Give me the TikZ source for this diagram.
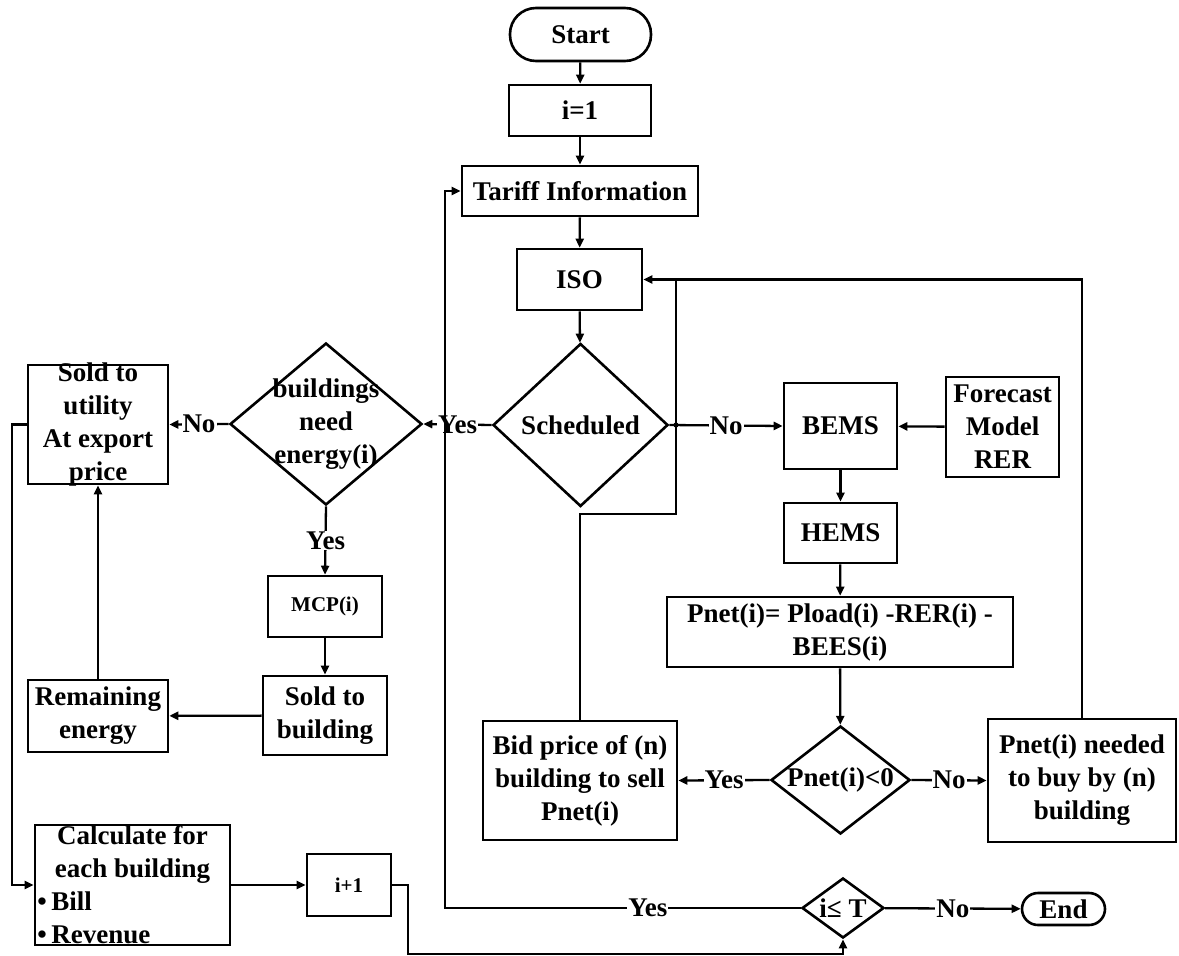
\documentclass[tikz,border=0pt]{standalone}
\usepackage{fontspec}
\setmainfont{Liberation Serif}
\usetikzlibrary{shapes.geometric,arrows.meta}

\begin{document}
\begin{tikzpicture}[x=1pt,y=-1pt,line join=miter,
  font=\fontsize{27}{33}\selectfont\bfseries,
  box/.style={draw,line width=2.6pt,align=center,inner sep=2pt},
  term/.style={box,rounded corners=#1},
  decision/.style={draw,diamond,line width=2.6pt,inner sep=0pt},
  small/.style={font=\fontsize{21}{25}\selectfont\bfseries},
  flow/.style={line width=2.3pt,-{Triangle[length=9pt,width=8pt]}},
  link/.style={line width=2.3pt},
  tag/.style={fill=white,inner sep=1pt}]
  \useasboundingbox (0,0) rectangle (1179,956);

  % market column
  \node[term=26pt,minimum width=141pt,minimum height=53pt] (start) at (580.5,34.5) {Start};
  \node[box,minimum width=142pt,minimum height=51pt] (init) at (580,110.5) {i=1};
  \node[box,minimum width=236pt,minimum height=50pt] (tariff) at (580,191) {Tariff Information};
  \node[box,minimum width=125pt,minimum height=61pt] (iso) at (579.5,279.5) {ISO};
  \node[decision,minimum width=175pt,minimum height=163pt,label={center:Scheduled}] (sched) at (580.5,425) {};

  % scheduled branch
  \node[decision,minimum width=192pt,minimum height=162pt,
    label={[align=center]center:{buildings\\need\\energy(i)}}] (need) at (326,424) {};
  \node[box,minimum width=140pt,minimum height=119pt,
    label={[align=center]center:{Sold to\\utility\\At export\\price}}] (util) at (98,424.5) {};
  \node[box,small,minimum width=114pt,minimum height=61pt] (mcp) at (325,606.5) {MCP(i)};
  \node[box,minimum width=124pt,minimum height=79pt] (soldb) at (325,715.5) {Sold to\\building};
  \node[box,minimum width=140pt,minimum height=72pt] (remain) at (98,716) {Remaining\\energy};
  \node[box,minimum width=195pt,minimum height=120pt,
    label={[align=left,inner sep=0pt]center:{\makebox[190pt]{Calculate for}\\\makebox[190pt]{each building}\\\textbullet\,Bill\\\textbullet\,Revenue}}] (calc) at (132.5,885) {};
  \node[box,small,minimum width=84pt,minimum height=62pt] (inc) at (349,885) {i+1};

  % building side
  \node[box,minimum width=113pt,minimum height=86pt] (bems) at (840.5,426) {BEMS};
  \node[box,minimum width=113pt,minimum height=100pt] (fcst) at (1002.5,427) {Forecast\\Model\\RER};
  \node[box,minimum width=113pt,minimum height=60pt] (hems) at (840.5,533) {HEMS};
  \node[box,minimum width=346pt,minimum height=70pt] (pnet) at (840,632) {Pnet(i)= Pload(i) -RER(i) -\\BEES(i)};
  \node[decision,minimum width=139pt,minimum height=108pt,label={center:Pnet(i)<0}] (sign) at (840.5,780) {};
  \node[box,minimum width=194pt,minimum height=119pt] (bid) at (580,780.5) {Bid price of (n)\\building to sell\\Pnet(i)};
  \node[box,minimum width=188pt,minimum height=123pt] (buy) at (1082,780.5) {Pnet(i) needed\\to buy by (n)\\building};

  % loop test
  \node[decision,minimum width=82pt,minimum height=60pt,label={center:i≤ T}] (check) at (843,908) {};
  \node[term=16pt,minimum width=83pt,minimum height=32pt] (stop) at (1063.5,909) {End};

  \draw[flow] (start) -- (init);
  \draw[flow] (init) -- (tariff);
  \draw[flow] (tariff) -- (iso);
  \draw[flow] (iso) -- (sched);
  \draw[flow] (sched.west) -- node[tag]{Yes} (need.east);
  \draw[flow] (need.west) -- node[tag]{No} (util.east);
  \draw[flow] (need.south) -- node[tag]{Yes} (mcp.north);
  \draw[flow] (mcp) -- (soldb);
  \draw[flow] (soldb) -- (remain);
  \draw[flow] (remain) -- (util);
  \draw[flow] (util.west) -- ++(-15,0) |- (calc.west);
  \draw[flow] (calc) -- (inc);
  \draw[flow] (inc.east) -- ++(16,0) |- ([yshift=-15pt]check.south) -- (check.south);
  \draw[flow] (check.west) -- node[tag,pos=.43]{Yes} (445,908) |- (tariff.west);
  \draw[flow] (check) -- node[tag]{No} (stop);

  \draw[flow] (sched.east) -- node[tag]{No} (bems.west);
  \draw[flow] (fcst) -- (bems);
  \draw[flow] (bems) -- (hems);
  \draw[flow] (hems) -- (pnet);
  \draw[flow] (pnet) -- (sign);
  \draw[flow] (sign.west) -- node[tag]{Yes} (bid.east);
  \draw[flow] (sign.east) -- node[tag]{No} (buy.west);
  \draw[flow] (buy.north) |- (iso.east);
  \draw[link] (bid.north) |- (676,514) -- (676,280);
  \fill (676,425) circle (2.6pt);
\end{tikzpicture}
\end{document}
